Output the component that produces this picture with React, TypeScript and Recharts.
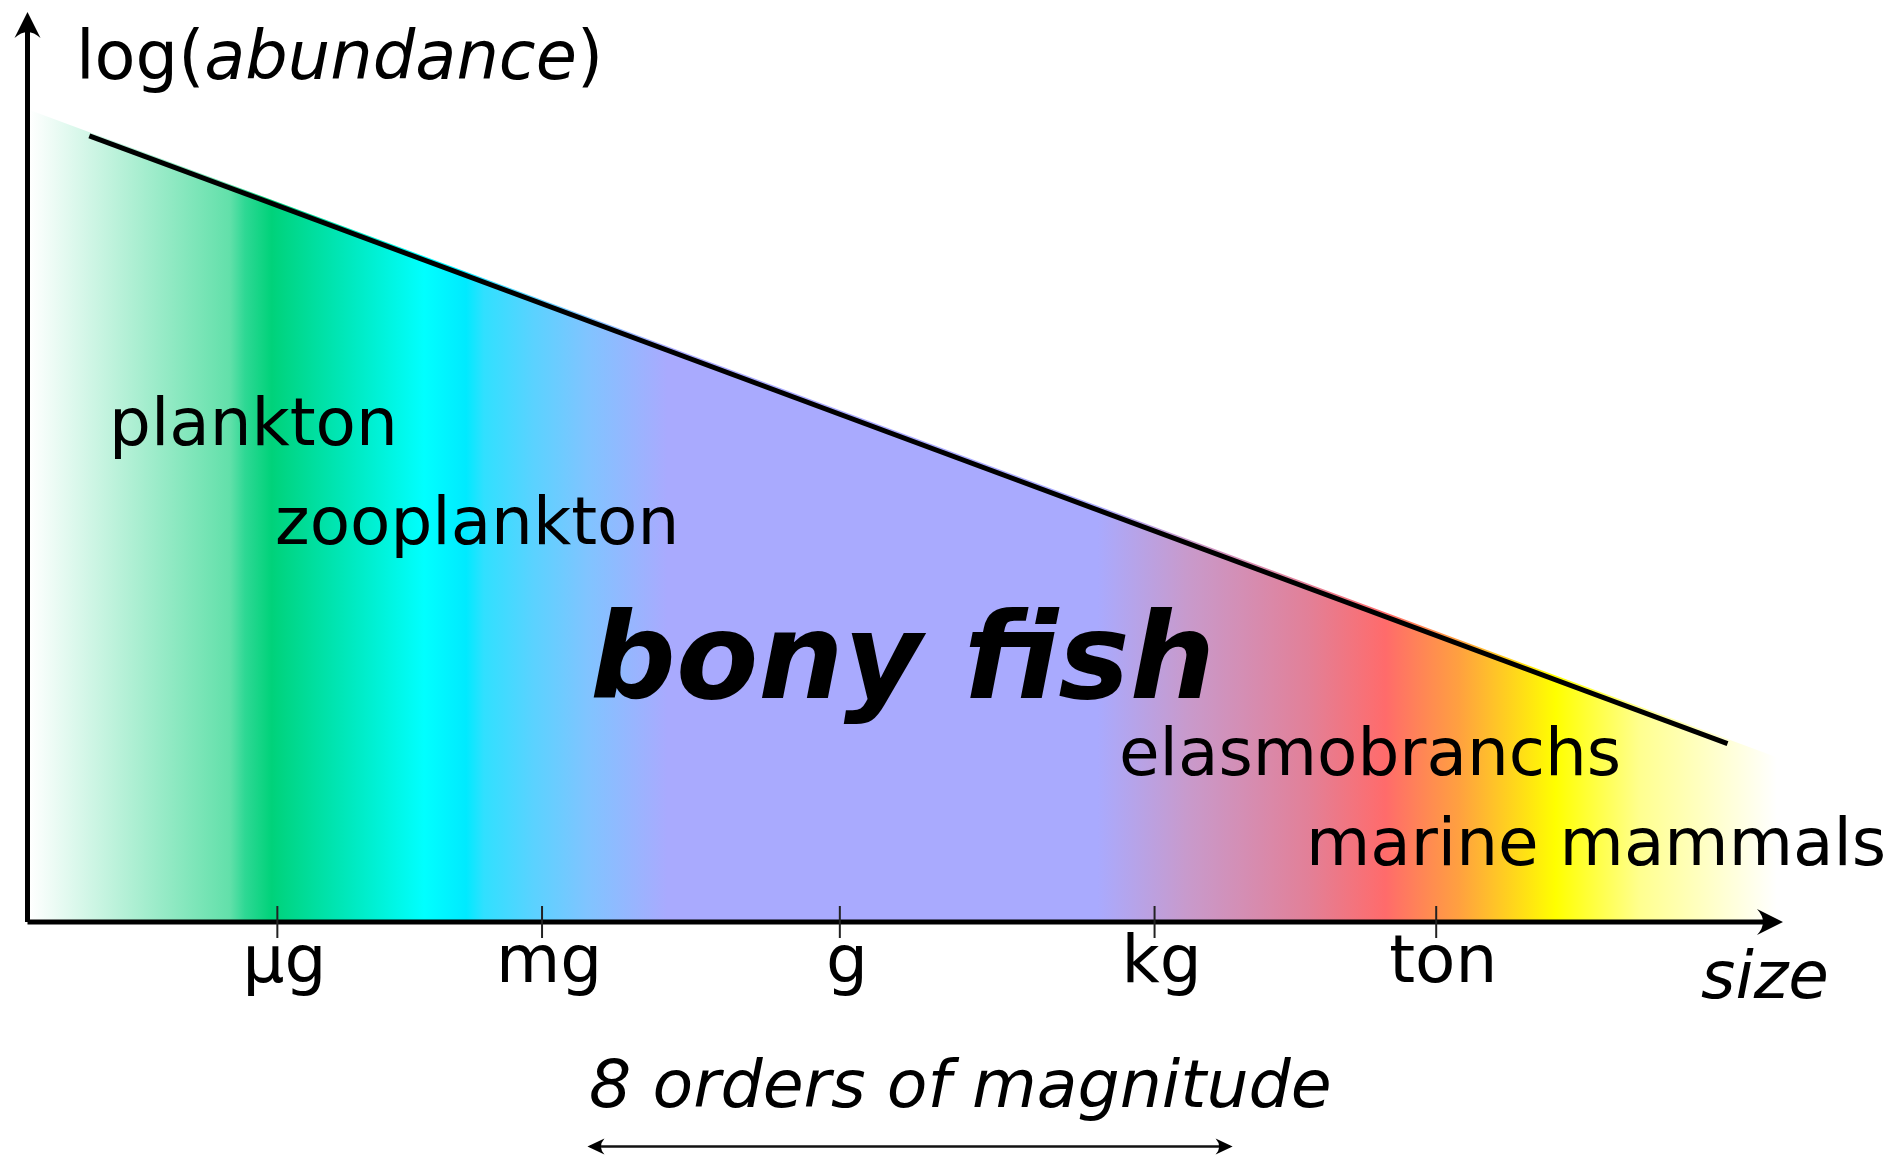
import { ComposedChart, Area, Line, XAxis, YAxis, ReferenceLine } from "recharts";

// x: log size, in orders of magnitude (g = 0); y: log abundance, same units
const TICK_LABELS = ["μg", "mg", "g", "kg", "ton"];
const TICK_VALUES = [-6.97, -3.69, 0, 3.9, 7.39];

// coloured spectrum under the size-spectrum line
const FILL_X = [-10.04, 11.61];
const FILL_Y = [10.06, 2.04];

// the black size-spectrum line
const LINE_X = [-9.3, 11.0];
const LINE_Y = [9.74, 2.21];

// "8 orders of magnitude" bar
const SPAN_X = [-3.09, 4.83];
const SPAN_Y = -2.78;

// colour stops of the spectrum, by size
const STOP_X = [-10.04, -7.56, -7.37, -7.04, -5.15, -4.63, -4.41, -3.8, -3.13, -2.14, 3.19, 4.3, 5.8, 6.76, 7.67, 8.87, 9.92, 11.61];
const STOP_COLORS = [
  "#ffffff", "#62e0aa", "#2ed894", "#00d27a", "#00ffff", "#00eaff", "#30e0ff", "#5ad2ff", "#80c4ff",
  "#a9aafe", "#a9aafe", "#c89acc", "#e28098", "#ff6b6b", "#ffa040", "#ffff00", "#ffff90", "#ffffff",
];

const X_DOMAIN = [-10.066, 11.613];
const Y_DOMAIN = [0, 11.2];

const rows = [
  ...FILL_X.map((x, i) => ({ x, fill: FILL_Y[i], line: null as number | null })),
  ...LINE_X.map((x, i) => ({ x, fill: null as number | null, line: LINE_Y[i] })),
].sort((a, b) => a.x - b.x);

const FONT = "'DejaVu Sans', 'Noto Sans', sans-serif";

function SizeTick(props: any) {
  const { x, y, index } = props;
  return (
    <g>
      <line x1={x} x2={x} y1={y - 16} y2={y + 16} stroke="#222" strokeWidth={2} />
      <text x={x + 7} y={y + 60} textAnchor="middle" fontSize={66} fontFamily={FONT} fill="#000">
        {TICK_LABELS[index]}
      </text>
    </g>
  );
}

export default function App() {
  const lo = STOP_X[0];
  const hi = STOP_X[STOP_X.length - 1];
  return (
    <div style={{ position: "absolute", left: 0, top: 0, width: 1892, height: 1156, background: "#fff", fontFamily: FONT }}>
      <ComposedChart width={1892} height={1156} data={rows} margin={{ top: 18, right: 115, bottom: 233, left: 26.5 }}>
        <defs>
          <linearGradient id="sizeSpectrum" x1="0" y1="0" x2="1" y2="0">
            {STOP_X.map((s, i) => (
              <stop key={i} offset={(s - lo) / (hi - lo)} stopColor={STOP_COLORS[i]} />
            ))}
          </linearGradient>
          <marker id="axisHead" viewBox="0 0 32 30" markerWidth={32} markerHeight={30} refX={24} refY={15}
            orient="auto-start-reverse" markerUnits="userSpaceOnUse">
            <path d="M30,15 L4,2 Q16,15 4,28 Z" fill="#000" />
          </marker>
          <marker id="spanHead" viewBox="0 0 20 18" markerWidth={20} markerHeight={18} refX={16} refY={9}
            orient="auto-start-reverse" markerUnits="userSpaceOnUse">
            <path d="M19,9 L2,1 Q9,9 2,17 Z" fill="#000" />
          </marker>
        </defs>
        <Area type="linear" dataKey="fill" fill="url(#sizeSpectrum)" fillOpacity={1} stroke="none"
          connectNulls dot={false} activeDot={false} isAnimationActive={false} />
        <Line type="linear" dataKey="line" stroke="#000" strokeWidth={5} connectNulls
          dot={false} activeDot={false} isAnimationActive={false} />
        <XAxis type="number" dataKey="x" domain={X_DOMAIN} allowDataOverflow ticks={TICK_VALUES} interval={0}
          height={1} tickSize={0} tickMargin={0} tickLine={false} tick={<SizeTick />}
          axisLine={{ stroke: "#000", strokeWidth: 5, markerEnd: "url(#axisHead)" }} />
        <YAxis type="number" domain={Y_DOMAIN} allowDataOverflow width={1} tick={false} tickLine={false}
          axisLine={{ stroke: "#000", strokeWidth: 5, markerStart: "url(#axisHead)" }} />
        <ReferenceLine
          segment={[{ x: SPAN_X[0], y: SPAN_Y }, { x: SPAN_X[1], y: SPAN_Y }]}
          stroke="#111" strokeWidth={2.5} ifOverflow="visible"
          markerStart="url(#spanHead)" markerEnd="url(#spanHead)"
        />
      </ComposedChart>
      <svg width={1892} height={1156} style={{ position: "absolute", left: 0, top: 0, pointerEvents: "none" }}
        fontFamily={FONT} fontSize={66} fill="#000">
        <text x={76} y={79} fontSize={67}>log(<tspan fontStyle="italic">abundance</tspan>)</text>
        <text x={109} y={445}>plankton</text>
        <text x={275} y={544}>zooplankton</text>
        <text x={590} y={698} fontSize={120} fontWeight="bold" fontStyle="italic">bony fish</text>
        <text x={1119} y={775}>elasmobranchs</text>
        <text x={1306} y={865}>marine mammals</text>
        <text x={1701} y={998} fontStyle="italic">size</text>
        <text x={589} y={1107} fontSize={66.5} fontStyle="italic">8 orders of magnitude</text>
      </svg>
    </div>
  );
}
